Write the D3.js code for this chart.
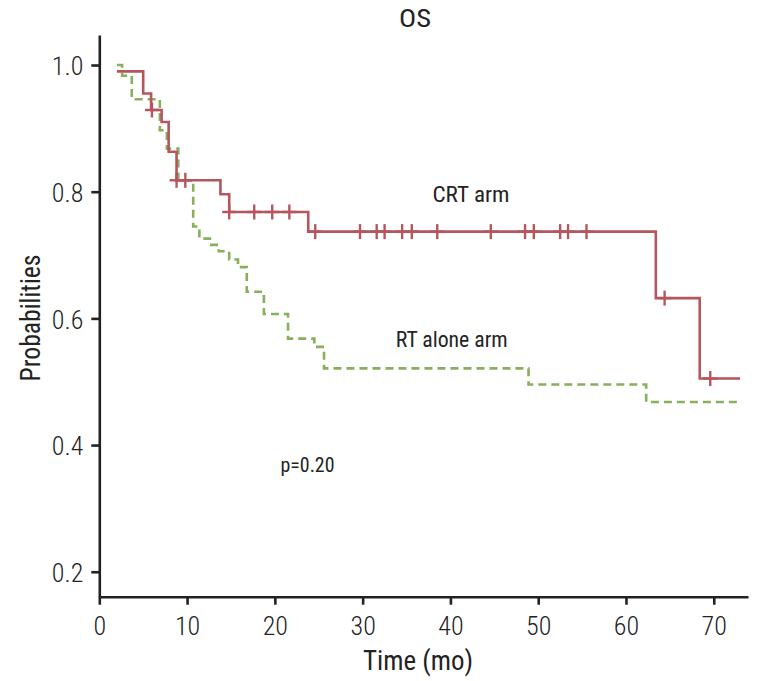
<!DOCTYPE html>
<html>
<head>
<meta charset="utf-8">
<script src="https://cdn.jsdelivr.net/npm/d3@7"></script>
<style>
  html, body { margin: 0; padding: 0; background: #fff; }
  svg text { font-family: "Roboto Condensed", Roboto, sans-serif; fill: #232323; }
</style>
</head>
<body>
<svg id="chart" width="762" height="681"></svg>
<script>
// ---- data ----
const xTicks = [0, 10, 20, 30, 40, 50, 60, 70];
const yTicks = [0.2, 0.4, 0.6, 0.8, 1.0];

// CRT arm: step start times and survival after each step
const crtTimes = [2, 5.0, 5.9, 7.1, 7.9, 8.8, 13.8, 14.8, 23.8, 63.4, 68.4];
const crtSurv  = [0.990, 0.955, 0.929, 0.910, 0.863, 0.818, 0.796, 0.768, 0.737, 0.632, 0.505];
const crtEnd = 73;
const crtCensored = [6.0, 8.8, 9.8, 14.8, 17.65, 19.7, 21.65, 24.6, 29.7, 31.6, 32.5, 34.5, 35.6, 38.5, 44.6, 48.5, 49.5, 52.5, 53.4, 55.5, 64.4, 69.6];

// RT alone arm
const rtTimes = [2, 2.6, 3.7, 6.9, 7.7, 9.0, 10.7, 11.4, 12.6, 13.6, 14.8, 15.8, 16.8, 18.75, 21.5, 24.5, 25.6, 48.9, 62.3];
const rtSurv  = [1.0, 0.983, 0.946, 0.897, 0.868, 0.818, 0.745, 0.726, 0.716, 0.706, 0.693, 0.681, 0.642, 0.607, 0.568, 0.555, 0.521, 0.4955, 0.468];
const rtEnd = 73;

// ---- chart ----
const svg = d3.select("#chart");
const x = d3.scaleLinear().domain([0, 73.9]).range([99.3, 748]);
const y = d3.scaleLinear().domain([0.1606, 1.0474]).range([596.7, 35]);

const red = "#b5565f";
const green = "#87af5c";
const axisColor = "#222";

function stepPoints(times, surv, end) {
  const pts = times.map((t, i) => [t, surv[i]]);
  pts.push([end, surv[surv.length - 1]]);
  return pts;
}
function survAt(times, surv, t) {
  let v = surv[0];
  for (let i = 0; i < times.length; i++) if (t >= times[i]) v = surv[i];
  return v;
}
function fitWidth(sel, w) {
  sel.attr("textLength", w).attr("lengthAdjust", "spacingAndGlyphs");
}
const line = d3.line().x(d => x(d[0])).y(d => y(d[1])).curve(d3.curveStepAfter);

// RT alone arm (dashed)
svg.append("path")
  .datum(stepPoints(rtTimes, rtSurv, rtEnd))
  .attr("d", line)
  .attr("fill", "none")
  .attr("stroke", green)
  .attr("stroke-width", 2.6)
  .attr("stroke-dasharray", "8,5");

// CRT arm (solid)
svg.append("path")
  .datum(stepPoints(crtTimes, crtSurv, crtEnd))
  .attr("d", line)
  .attr("fill", "none")
  .attr("stroke", red)
  .attr("stroke-width", 2.6);

// censor marks
const cg = svg.append("g").attr("stroke", red).attr("stroke-width", 2.4);
crtCensored.forEach(t => {
  const cx = x(t), cy = y(survAt(crtTimes, crtSurv, t));
  cg.append("line").attr("x1", cx).attr("x2", cx).attr("y1", cy - 7.5).attr("y2", cy + 7.5);
  cg.append("line").attr("x1", cx - 7).attr("x2", cx + 7).attr("y1", cy).attr("y2", cy);
});

// axes
const xAxis = svg.append("g").attr("transform", `translate(0,${y.range()[0]})`)
  .call(d3.axisBottom(x).tickValues(xTicks).tickSize(8).tickSizeOuter(0).tickPadding(12).tickFormat(d3.format("d")));
const yAxis = svg.append("g").attr("transform", `translate(${x.range()[0]},0)`)
  .call(d3.axisLeft(y).tickValues(yTicks).tickSize(8).tickSizeOuter(0).tickPadding(8).tickFormat(d3.format(".1f")));
[xAxis, yAxis].forEach(g => {
  g.select(".domain").attr("stroke", axisColor).attr("stroke-width", 2.6);
  g.selectAll(".tick line").attr("stroke", axisColor).attr("stroke-width", 2.6);
  g.selectAll(".tick text").attr("fill", "#232323").style("font-size", "26px").style("font-weight", 300)
    .style("font-family", '"Roboto Condensed", Roboto, sans-serif');
});
yAxis.selectAll(".tick text").attr("dy", "0.37em");

// titles & labels
fitWidth(svg.append("text").attr("x", 415).attr("y", 26.7).attr("text-anchor", "middle")
  .style("font-size", "26.5px").text("OS"), 32);
fitWidth(svg.append("text").attr("x", 418).attr("y", 670).attr("text-anchor", "middle")
  .style("font-size", "27px").text("Time (mo)"), 110);
fitWidth(svg.append("text").attr("transform", "translate(39.5,318) rotate(-90)").attr("text-anchor", "middle")
  .style("font-size", "27px").text("Probabilities"), 127);

fitWidth(svg.append("text").attr("x", 471).attr("y", 202).attr("text-anchor", "middle")
  .style("font-size", "22px").text("CRT arm"), 77);
fitWidth(svg.append("text").attr("x", 451.7).attr("y", 346.7).attr("text-anchor", "middle")
  .style("font-size", "22px").text("RT alone arm"), 112);
fitWidth(svg.append("text").attr("x", 307.5).attr("y", 471.7).attr("text-anchor", "middle")
  .style("font-size", "21px").text("p=0.20"), 54);
</script>
</body>
</html>
